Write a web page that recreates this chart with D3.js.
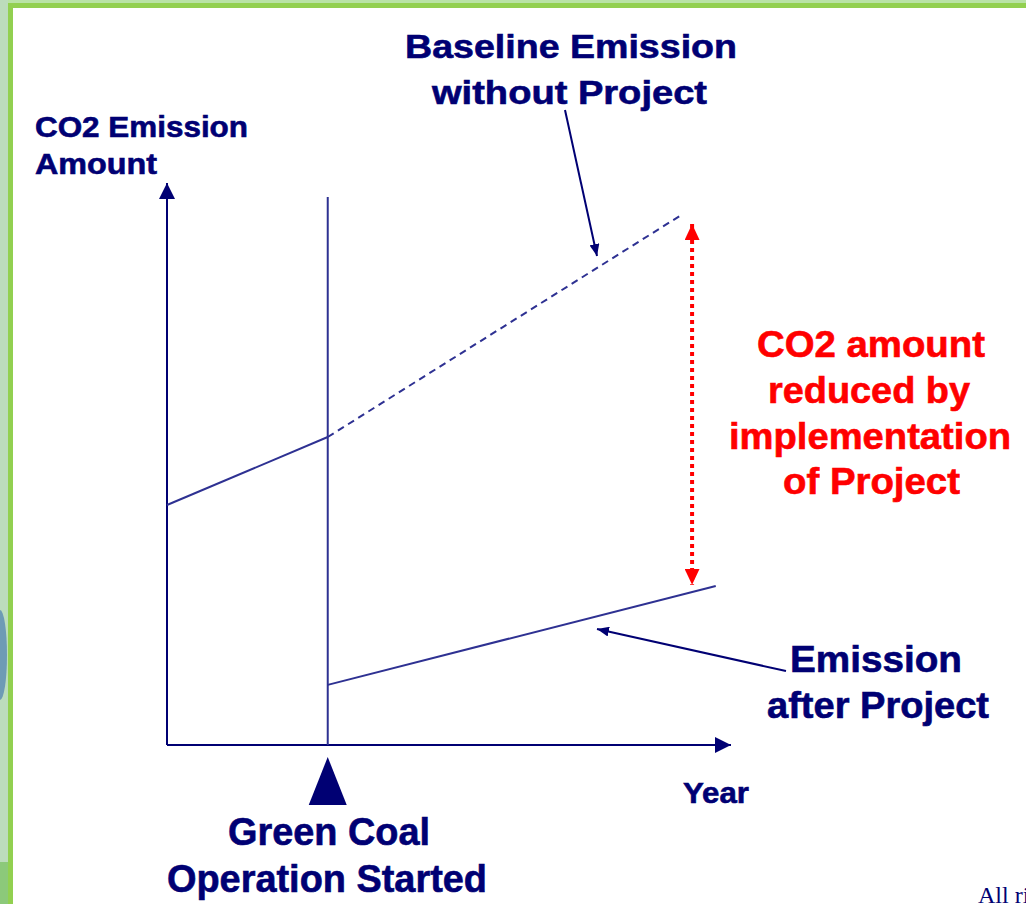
<!DOCTYPE html>
<html><head><meta charset="utf-8">
<script src="https://cdn.jsdelivr.net/npm/d3@7"></script>
<style>html,body{margin:0;padding:0;background:#fff;overflow:hidden}</style>
</head><body>
<svg id="c" width="1026" height="904"></svg>
<script>
// ---- data (x: time units 0..100, y: emission units 0..100) ----
const projectStart = 28.5;
const baselineBefore = [{x:0,y:42.7},{x:28.5,y:54.8}];
const baselineProjected = [{x:28.5,y:54.8},{x:91.5,y:94.5}];
const afterProject = [{x:28.5,y:10.7},{x:97.3,y:28.3}];
const reduction = {x:93.1, top:92.7, bottom:28.5};
const startLineTop = 97.5;
const axisLabels = ["CO2 Emission","Amount"];
const xAxisLabel = ["Year"];
const baselineLabel = ["Baseline Emission","without Project"];
const afterLabel = ["Emission","after Project"];
const reductionLabel = ["CO2 amount","reduced by","implementation","of Project"];
const startLabel = ["Green Coal","Operation Started"];

const svg = d3.select("#c");
const x = d3.scaleLinear().domain([0,100]).range([167,731]);
const y = d3.scaleLinear().domain([0,100]).range([745,183]);

// frame
svg.append("rect").attr("x",0).attr("y",0).attr("width",1026).attr("height",904).attr("fill","#fff");
svg.append("rect").attr("x",0).attr("y",0).attr("width",1026).attr("height",4).attr("fill","#b9e3a6");
svg.append("rect").attr("x",0).attr("y",0).attr("width",8).attr("height",904).attr("fill","#bcdcbc");
svg.append("ellipse").attr("cx",0).attr("cy",655).attr("rx",7).attr("ry",45).attr("fill","#3a6fb0").attr("opacity",0.6);
svg.append("rect").attr("x",0).attr("y",862).attr("width",8).attr("height",42).attr("fill","#8cc97a");
svg.append("rect").attr("x",8).attr("y",3).attr("width",1018).attr("height",5).attr("fill","#92d050");
svg.append("rect").attr("x",8).attr("y",3).attr("width",5).attr("height",901).attr("fill","#92d050");

const navy = "#000073", lineC = "#2e3192";
const defs = svg.append("defs");
function marker(id, color, w, h){
  defs.append("marker").attr("id",id).attr("viewBox",`0 -${h/2} ${w} ${h}`)
    .attr("refX",w).attr("refY",0).attr("markerWidth",w).attr("markerHeight",h)
    .attr("markerUnits","userSpaceOnUse").attr("orient","auto-start-reverse")
    .append("path").attr("d",`M0,-${h/2}L${w},0L0,${h/2}Z`).attr("fill",color);
}
marker("axArrow", navy, 16, 16);
marker("redArrow", "#ff0000", 16, 15);
marker("ptr", navy, 12, 10);

// axes
svg.append("line").attr("x1",x(0)).attr("y1",y(0)).attr("x2",x(0)).attr("y2",y(100))
  .attr("stroke",navy).attr("stroke-width",2).attr("marker-end","url(#axArrow)");
svg.append("line").attr("x1",x(0)).attr("y1",y(0)).attr("x2",x(100)).attr("y2",y(0))
  .attr("stroke",navy).attr("stroke-width",2).attr("marker-end","url(#axArrow)");

// project start line
svg.append("line").attr("x1",x(projectStart)).attr("y1",y(0)).attr("x2",x(projectStart)).attr("y2",y(startLineTop))
  .attr("stroke",lineC).attr("stroke-width",2);

const line = d3.line().x(d=>x(d.x)).y(d=>y(d.y));
svg.append("path").attr("d",line(baselineBefore)).attr("fill","none").attr("stroke",lineC).attr("stroke-width",2);
svg.append("path").attr("d",line(baselineProjected)).attr("fill","none").attr("stroke",lineC).attr("stroke-width",2).attr("stroke-dasharray","7 5");
svg.append("path").attr("d",line(afterProject)).attr("fill","none").attr("stroke",lineC).attr("stroke-width",2);

// reduction double arrow
svg.append("line").attr("x1",x(reduction.x)).attr("y1",y(reduction.top)).attr("x2",x(reduction.x)).attr("y2",y(reduction.bottom))
  .attr("stroke","#ff0000").attr("stroke-width",4).attr("stroke-dasharray","4 4")
  .attr("marker-start","url(#redArrow)").attr("marker-end","url(#redArrow)");

// start triangle
const tx = x(projectStart);
svg.append("path").attr("d",`M${tx},757L${tx+19},805L${tx-19},805Z`).attr("fill",navy);

// pointers
svg.append("line").attr("x1",565).attr("y1",110).attr("x2",597).attr("y2",256)
  .attr("stroke",navy).attr("stroke-width",2).attr("marker-end","url(#ptr)");
svg.append("line").attr("x1",786).attr("y1",671).attr("x2",597).attr("y2",629)
  .attr("stroke",navy).attr("stroke-width",2).attr("marker-end","url(#ptr)");

// texts: each line placed by its left edge, baseline, size and span width
const font = "'Liberation Sans', Arial, sans-serif";
function txt(s, x0, x1, yb, size, color){
  svg.append("text").attr("x",x0).attr("y",yb).attr("font-family",font).attr("font-weight","bold")
    .attr("font-size",size).attr("fill",color).attr("stroke",color).attr("stroke-width",0.6)
    .attr("textLength",x1-x0).attr("lengthAdjust","spacingAndGlyphs").text(s);
}
txt(baselineLabel[0], 405, 737, 58, 34, navy);
txt(baselineLabel[1], 432, 707, 104, 34, navy);
txt(axisLabels[0], 35, 248, 137, 29, navy);
txt(axisLabels[1], 35, 157, 174, 29, navy);
const red = "#ff0000";
txt(reductionLabel[0], 757, 985, 357, 36, red);
txt(reductionLabel[1], 768, 970, 403, 36, red);
txt(reductionLabel[2], 729, 1011, 449, 36, red);
txt(reductionLabel[3], 783, 960, 494, 36, red);
txt(afterLabel[0], 790, 962, 672, 36, navy);
txt(afterLabel[1], 767, 989, 718, 36, navy);
txt(xAxisLabel[0], 683, 749, 803, 30, navy);
txt(startLabel[0], 228, 430, 845, 38, navy);
txt(startLabel[1], 167, 487, 892, 38, navy);
svg.append("text").attr("x",978).attr("y",903).attr("font-family","'Liberation Serif', serif")
  .attr("font-size",24).attr("fill",navy).text("All rights reserved");
</script>
</body></html>
